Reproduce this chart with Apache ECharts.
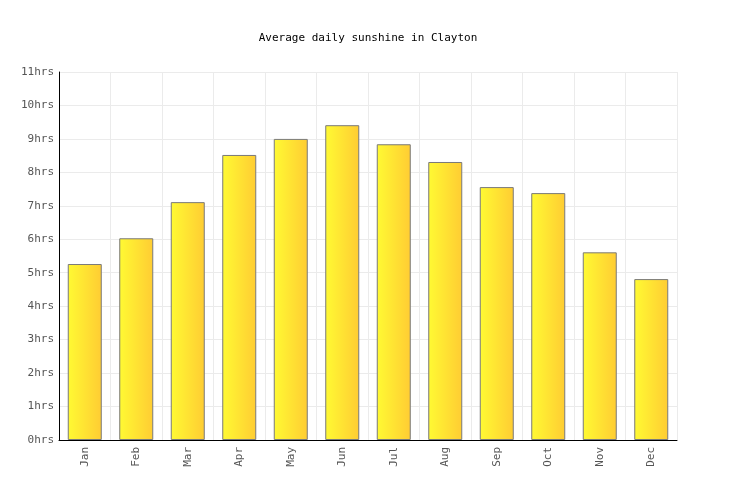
<!DOCTYPE html>
<html><head><meta charset="utf-8">
<script src="https://cdn.jsdelivr.net/npm/echarts@6/dist/echarts.min.js"></script>
<style>html,body{margin:0;padding:0;background:#fff}#c{width:736px;height:500px}</style>
</head><body><div id="c"></div>
<script>
const months = ['Jan','Feb','Mar','Apr','May','Jun','Jul','Aug','Sep','Oct','Nov','Dec'];
const sunshine = [5.26, 6.03, 7.11, 8.52, 9.0, 9.41, 8.84, 8.31, 7.56, 7.38, 5.61, 4.81];
const yTicks = [0,1,2,3,4,5,6,7,8,9,10,11];
const font = 'DejaVu Sans Mono';
const chart = echarts.init(document.getElementById('c'), null, {renderer:'canvas'});
chart.setOption({
  animation:false,
  title:{text:'Average daily sunshine in Clayton', left:'center', top:28,
    textStyle:{fontFamily:font, fontSize:11, fontWeight:'normal', color:'#000'}},
  grid:{left:59, right:59, top:72, bottom:60, containLabel:false},
  xAxis:{type:'category', data:months, boundaryGap:true,
    axisLine:{lineStyle:{color:'#000', width:1}},
    axisTick:{show:false},
    splitLine:{show:true, interval:0, lineStyle:{color:'#ebebeb'}},
    axisLabel:{rotate:90, interval:0, margin:7, fontFamily:font, fontSize:11, color:'#555'}},
  yAxis:{type:'value', min:yTicks[0], max:yTicks[yTicks.length-1], interval:1,
    axisLine:{show:true, lineStyle:{color:'#000', width:1}},
    axisTick:{show:false},
    splitLine:{lineStyle:{color:'#ebebeb'}},
    axisLabel:{formatter:v=>v+'hrs', margin:5, fontFamily:font, fontSize:11, color:'#555'}},
  series:[{type:'bar', data:sunshine, barWidth:34,
    itemStyle:{borderColor:'#7a7a7a', borderWidth:1,
      color:new echarts.graphic.LinearGradient(0,0,1,0,[{offset:0,color:'#fffa33'},{offset:1,color:'#ffcc33'}])}}]
});
</script></body></html>
